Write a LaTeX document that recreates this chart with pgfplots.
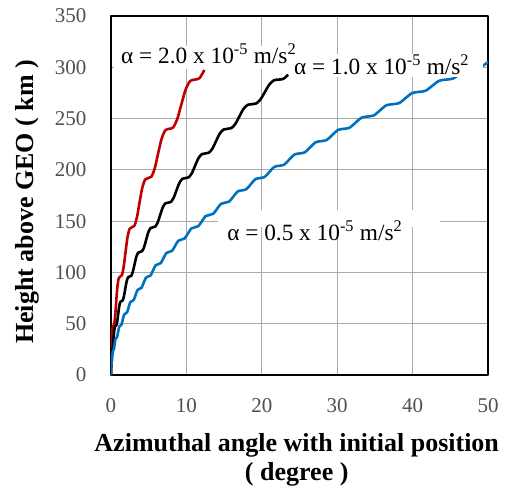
\documentclass[border=0pt]{standalone}
\usepackage{pgfplots}
\pgfplotsset{compat=1.18}
\usepackage{fontspec}
\setmainfont{Liberation Serif}
\definecolor{cred}{RGB}{192,0,0}
\definecolor{cblue}{RGB}{0,112,192}
\definecolor{gridc}{RGB}{170,170,170}
\definecolor{tickc}{RGB}{80,80,80}
\begin{document}
\begin{tikzpicture}
\begin{axis}[
  scale only axis, width=377pt, height=359pt,
  xmin=0, xmax=50, ymin=0, ymax=350,
  xtick={0,10,...,50}, ytick={0,50,...,350},
  grid=major, grid style={gridc, line width=0.9pt},
  axis line style={black, line width=1.4pt},
  major tick length=0pt,
  /pgf/number format/assume math mode=true,
  ticklabel style={font=\fontsize{21}{21}\selectfont, text=tickc},
  xticklabel style={yshift=-20pt},
  yticklabel style={xshift=-21pt},
  xlabel={Azimuthal angle with initial position\\( degree )},
  ylabel={Height above GEO ( km )},
  xlabel style={font=\bfseries\fontsize{26}{29}\selectfont, align=center, at={(axis description cs:0.4926,0)}, anchor=north, yshift=-55pt},
  ylabel style={font=\bfseries\fontsize{26}{30}\selectfont, at={(axis description cs:-0.2215,0.482)}, anchor=center},
  line join=round,
]
\addplot[cred, line width=2.6pt, smooth] coordinates {
(0,0) (0.0086,1.39) (0.0343,9.38) (0.0772,24) (0.1372,38.62) (0.2144,46.61) (0.3087,48) (0.4202,49.39) (0.5488,57.38) (0.6946,72) (0.8575,86.62) (1.0376,94.61) (1.2348,96) (1.4492,97.39) (1.6807,105.38) (1.9294,120) (2.1952,134.62) (2.4782,142.61) (2.7783,144) (3.0956,145.39) (3.4300,153.38) (3.7816,168) (4.1503,182.62) (4.5362,190.61) (4.9392,192) (5.3594,193.39) (5.7967,201.38) (6.2512,216) (6.7228,230.62) (7.2116,238.61) (7.7175,240) (8.2406,241.39) (8.7808,249.38) (9.3382,264) (9.9127,278.62) (10.5044,286.61) (11.1132,288) (11.7392,289.39) (12.3823,297.38)
};
\addplot[black, line width=2.6pt, smooth] coordinates {
(0,0) (0.0043,0.69) (0.0172,4.69) (0.0386,12) (0.0686,19.31) (0.1072,23.31) (0.1544,24) (0.2101,24.69) (0.2744,28.69) (0.3473,36) (0.4288,43.31) (0.5188,47.31) (0.6175,48) (0.7247,48.69) (0.8404,52.69) (0.9648,60) (1.0977,67.31) (1.2392,71.31) (1.3893,72) (1.5480,72.69) (1.7152,76.69) (1.8910,84) (2.0754,91.31) (2.2684,95.31) (2.4699,96) (2.6800,96.69) (2.8987,100.69) (3.1260,108) (3.3618,115.31) (3.6062,119.31) (3.8593,120) (4.1208,120.69) (4.3910,124.69) (4.6697,132) (4.9570,139.31) (5.2529,143.31) (5.5573,144) (5.8703,144.69) (6.1919,148.69) (6.5221,156) (6.8609,163.31) (7.2082,167.31) (7.5641,168) (7.9286,168.69) (8.3017,172.69) (8.6833,180) (9.0735,187.31) (9.4723,191.31) (9.8797,192) (10.2956,192.69) (10.7201,196.69) (11.1532,204) (11.5949,211.31) (12.0451,215.31) (12.5040,216) (12.9714,216.69) (13.4473,220.69) (13.9319,228) (14.4250,235.31) (14.9267,239.31) (15.4370,240) (15.9559,240.69) (16.4833,244.69) (17.0193,252) (17.5639,259.31) (18.1171,263.31) (18.6788,264) (19.2492,264.69) (19.8280,268.69) (20.4155,276) (21.0115,283.31) (21.6161,287.31) (22.2293,288) (22.8510,288.69) (23.4812,292.69)
};
\addplot[cblue, line width=2.6pt, smooth] coordinates {
(0,0) (0.0048,1.09) (0.0193,6) (0.0434,10.91) (0.0772,12) (0.1206,13.09) (0.1737,18) (0.2364,22.91) (0.3087,24) (0.3907,25.09) (0.4824,30) (0.5837,34.91) (0.6946,36) (0.8152,37.09) (0.9455,42) (1.0853,46.91) (1.2349,48) (1.3941,49.09) (1.5629,54) (1.7414,58.91) (1.9295,60) (2.1273,61.09) (2.3347,66) (2.5518,70.91) (2.7785,72) (3.0149,73.09) (3.2609,78) (3.5165,82.91) (3.7818,84) (4.0568,85.09) (4.3414,90) (4.6356,94.91) (4.9395,96) (5.2530,97.09) (5.5763,102) (5.9091,106.91) (6.2516,108) (6.6037,109.09) (6.9655,114) (7.3369,118.91) (7.7180,120) (8.1087,121.09) (8.5091,126) (8.9191,130.91) (9.3388,132) (9.7681,133.09) (10.2071,138) (10.6557,142.91) (11.1139,144) (11.5818,145.09) (12.0594,150) (12.5467,154.91) (13.0434,156) (13.5499,157.09) (14.0661,162) (14.5919,166.91) (15.1273,168) (15.6724,169.09) (16.2271,174) (16.7915,178.91) (17.3655,180) (17.9492,181.09) (18.5425,186) (19.1455,190.91) (19.7581,192) (20.3804,193.09) (21.0123,198) (21.6538,202.91) (22.3050,204) (22.9659,205.09) (23.6364,210) (24.3165,214.91) (25.0063,216) (25.7057,217.09) (26.4149,222) (27.1336,226.91) (27.8620,228) (28.6000,229.09) (29.3477,234) (30.1050,238.91) (30.8720,240) (31.6486,241.09) (32.4349,246) (33.2308,250.91) (34.0364,252) (34.8516,253.09) (35.6765,258) (36.5110,262.91) (37.3551,264) (38.2089,265.09) (39.0724,270) (39.9455,274.91) (40.8282,276) (41.7206,277.09) (42.6227,282) (43.5344,286.91) (44.4557,288) (45.3867,289.09) (46.3273,294) (47.2776,298.91) (48.2375,300) (49.2071,301.09) (50.1863,306) (51.1752,310.91)
};
\fill[white] (axis cs:0.4,320.5) rectangle (axis cs:26.2,298.3);
\fill[white] (axis cs:24.0,313) rectangle (axis cs:49.3,290.5);
\fill[white] (axis cs:14.2,160.9) rectangle (axis cs:43.6,144.3);
\node[anchor=base west, inner sep=0pt, font=\fontsize{23.3}{23.3}\selectfont] at (axis cs:1.33,303.9) {α = 2.0 x 10\textsuperscript{-5} m/s\textsuperscript{2}};
\node[anchor=base west, inner sep=0pt, font=\fontsize{23.3}{23.3}\selectfont] at (axis cs:24.27,292.5) {α = 1.0 x 10\textsuperscript{-5} m/s\textsuperscript{2}};
\node[anchor=base west, inner sep=0pt, font=\fontsize{23.3}{23.3}\selectfont] at (axis cs:15.4,131.5) {α = 0.5 x 10\textsuperscript{-5} m/s\textsuperscript{2}};
\end{axis}
\pgfresetboundingbox
\path[use as bounding box] ([shift={(-111pt,-113pt)}]current axis.south west) rectangle ([shift={(23pt,16pt)}]current axis.north east);
\end{tikzpicture}
\end{document}
